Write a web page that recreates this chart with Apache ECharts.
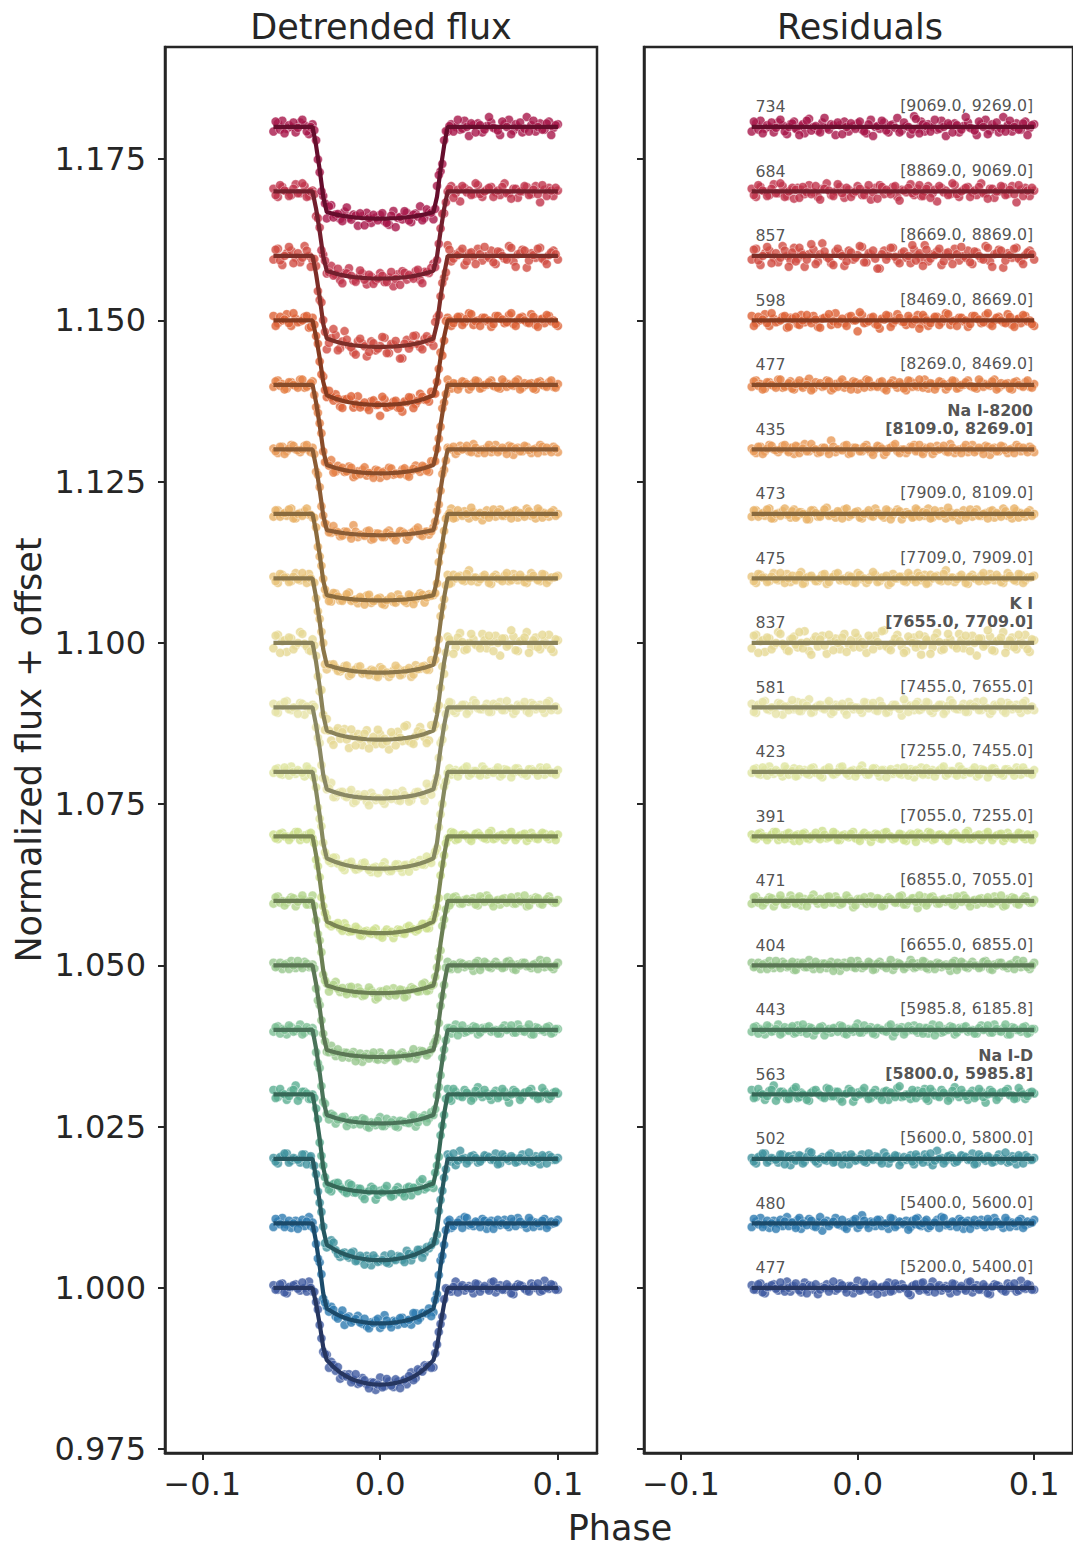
<!DOCTYPE html>
<html>
<head>
<meta charset="utf-8">
<script src="https://cdn.jsdelivr.net/npm/echarts@6/dist/echarts.min.js"></script>
<style>
    html, body { margin: 0; padding: 0; background: #fff; }
    #chart { width: 1073px; height: 1550px; }
</style>
</head>
<body>
<div id="chart"></div>
<script>

// phases of the exposures, first set
const phasesA = [
    -0.060, -0.0575, -0.055, -0.0525, -0.050, -0.0475, -0.045, -0.0425, -0.040, -0.038,
    -0.036, -0.034, -0.032, -0.030,
    -0.0275, -0.025, -0.0225, -0.020, -0.0175, -0.015, -0.0125, -0.010, -0.0075, -0.005, -0.0025, 0,
    0.0025, 0.005, 0.0075, 0.010, 0.0125, 0.015, 0.0175, 0.020, 0.0225, 0.025, 0.0275,
    0.030, 0.032, 0.034, 0.036, 0.038,
    0.040, 0.0425, 0.045, 0.0475, 0.050, 0.0525, 0.055, 0.0575, 0.060, 0.0625, 0.065, 0.0675,
    0.070, 0.0725, 0.075, 0.0775, 0.080, 0.0825, 0.085, 0.0875, 0.090, 0.0925, 0.095, 0.0975, 0.100
];
// second set of exposures, in between the first
const phasesB = [
    -0.05875, -0.05625, -0.05375, -0.05125, -0.04875, -0.04625, -0.04375, -0.04125, -0.039,
    -0.037, -0.035, -0.033, -0.031, -0.02875,
    -0.02625, -0.02375, -0.02125, -0.01875, -0.01625, -0.01375, -0.01125, -0.00875, -0.00625, -0.00375, -0.00125,
    0.00125, 0.00375, 0.00625, 0.00875, 0.01125, 0.01375, 0.01625, 0.01875, 0.02125, 0.02375, 0.02625,
    0.02875, 0.031, 0.033, 0.035, 0.037, 0.039,
    0.04125, 0.04375, 0.04625, 0.04875, 0.05125, 0.05375, 0.05625, 0.05875, 0.06125, 0.06375, 0.06625, 0.06875,
    0.07125, 0.07375, 0.07625, 0.07875, 0.08125, 0.08375, 0.08625, 0.08875, 0.09125, 0.09375, 0.09625, 0.09875
];

// transit model shape:
// fraction of the contact depth reached (ingress / egress)
const ingressA = [
    0, 0, 0, 0, 0, 0, 0, 0, 0, 0,
    0.22, 0.5, 0.82, 1,
    1, 1, 1, 1, 1, 1, 1, 1, 1, 1, 1, 1,
    1, 1, 1, 1, 1, 1, 1, 1, 1, 1, 1,
    1, 0.82, 0.5, 0.22, 0,
    0, 0, 0, 0, 0, 0, 0, 0, 0, 0, 0, 0,
    0, 0, 0, 0, 0, 0, 0, 0, 0, 0, 0, 0, 0
];
const ingressB = [
    0, 0, 0, 0, 0, 0, 0, 0, 0,
    0.08, 0.36, 0.66, 0.93, 1,
    1, 1, 1, 1, 1, 1, 1, 1, 1, 1, 1,
    1, 1, 1, 1, 1, 1, 1, 1, 1, 1, 1,
    1, 0.93, 0.66, 0.36, 0.08, 0,
    0, 0, 0, 0, 0, 0, 0, 0, 0, 0, 0, 0,
    0, 0, 0, 0, 0, 0, 0, 0, 0, 0, 0, 0
];
// limb darkening curvature of the bottom (fraction of centre - contact depth)
const bottomA = [
    0, 0, 0, 0, 0, 0, 0, 0, 0, 0,
    0, 0, 0, 0,
    0.18, 0.36, 0.50, 0.62, 0.72, 0.80, 0.86, 0.91, 0.95, 0.98, 0.995, 1,
    0.995, 0.98, 0.95, 0.91, 0.86, 0.80, 0.72, 0.62, 0.50, 0.36, 0.18,
    0, 0, 0, 0, 0,
    0, 0, 0, 0, 0, 0, 0, 0, 0, 0, 0, 0,
    0, 0, 0, 0, 0, 0, 0, 0, 0, 0, 0, 0, 0
];
const bottomB = [
    0, 0, 0, 0, 0, 0, 0, 0, 0,
    0, 0, 0, 0, 0.09,
    0.27, 0.43, 0.56, 0.67, 0.76, 0.83, 0.885, 0.93, 0.965, 0.988, 0.998,
    0.998, 0.988, 0.965, 0.93, 0.885, 0.83, 0.76, 0.67, 0.56, 0.43, 0.27,
    0.09, 0, 0, 0, 0, 0,
    0, 0, 0, 0, 0, 0, 0, 0, 0, 0, 0, 0,
    0, 0, 0, 0, 0, 0, 0, 0, 0, 0, 0, 0
];

// wavelength bins, bottom (blue) to top (red)
const offsets = [1.00, 1.01, 1.02, 1.03, 1.04, 1.05, 1.06, 1.07, 1.08, 1.09,
                 1.10, 1.11, 1.12, 1.13, 1.14, 1.15, 1.16, 1.17, 1.18];
const centerDepth = [0.0150, 0.0155, 0.0157, 0.0152, 0.0145, 0.0142, 0.0143, 0.0150, 0.0150, 0.0141,
                     0.0150, 0.0146, 0.0134, 0.0133, 0.0137, 0.0131, 0.0141, 0.0135, 0.0142];
const edgeDepth = [0.0112, 0.0132, 0.0133, 0.0138, 0.0132, 0.0131, 0.0131, 0.0132, 0.0134, 0.0127,
                   0.0136, 0.0134, 0.0126, 0.0125, 0.0124, 0.0116, 0.0128, 0.0123, 0.0132];
const rmsLabels = ['477', '480', '502', '563', '443', '404', '471', '391', '423', '581',
                   '837', '475', '473', '435', '477', '598', '857', '684', '734'];
const binLabels = ['[5200.0, 5400.0]', '[5400.0, 5600.0]', '[5600.0, 5800.0]', '[5800.0, 5985.8]',
                   '[5985.8, 6185.8]', '[6655.0, 6855.0]', '[6855.0, 7055.0]', '[7055.0, 7255.0]',
                   '[7255.0, 7455.0]', '[7455.0, 7655.0]', '[7655.0, 7709.0]', '[7709.0, 7909.0]',
                   '[7909.0, 8109.0]', '[8109.0, 8269.0]', '[8269.0, 8469.0]', '[8469.0, 8669.0]',
                   '[8669.0, 8869.0]', '[8869.0, 9069.0]', '[9069.0, 9269.0]'];
const featureNames = ['', '', '', 'Na I-D', '', '', '', '', '', '', 'K I', '', '', 'Na I-8200', '', '', '', '', ''];
const colors = ['#3f5aa0', '#2d7bb0', '#41939f', '#5aae91', '#7cbf94', '#97c78d', '#b3d48c', '#cde08c',
                '#dfe5a0', '#e6e2a6', '#e6d894', '#e8c47c', '#e8b266', '#e89a58', '#e57f45', '#dd6236',
                '#d14c42', '#c0334b', '#a8164a'];

// residuals per bin, in units of 1.4e-4 (same order as phasesA / phasesB)
const RESID_UNIT = 1.4e-4;
const residualsA = [
    [3,-2,5,-6,1,4,-3,0,7,-4, 2,-1,-5,6,3,-2,-7,1,4,0, -3,5,-1,2,-6,8,-2,3,-4,1, 0,-5,6,-3,2,4,-1,-8,3,0, 5,-2,-4,7,1,-3,2,-6,4,0, -1,6,-5,3,-2,1,-7,4,2,-3, 5,0,-4,8,-1,3,-2],
    [-4,2,6,-1,-5,3,0,-3,7,1, -2,4,-6,2,5,-3,1,-8,3,0, 6,-2,-4,1,3,-5,9,-1,2,-3, 4,0,-6,5,-2,1,3,-4,-1,6, -3,2,-5,0,4,7,-2,-3,1,5, -6,3,0,-2,4,-4,2,6,-1,-5, 3,1,-3,5,-2,0,4],
    [1,-5,3,6,-2,0,-4,5,2,-7, 4,-1,3,-3,8,0,-5,2,-2,6, -3,1,4,-6,2,-1,5,-4,0,3, -2,7,-5,1,3,-3,-1,4,-6,2, 0,5,-3,-7,9,1,-2,4,-4,0, 3,-1,6,-5,2,-2,1,-3,5,0, -4,3,-6,2,4,-1,1],
    [5,-3,1,-6,4,10,-2,3,-5,0, 6,-4,2,-1,-7,4,1,-3,7,-2, 3,-5,0,6,-8,2,4,-1,-4,5, -2,3,-6,1,7,-3,0,-5,2,4, -1,6,-7,3,-2,5,0,-4,8,-3, 1,-6,4,-2,3,-9,5,0,-3,2, 6,-1,-4,3,-5,2,1],
    [-2,4,1,-5,3,-1,6,-3,0,2, -4,5,-2,1,3,-6,0,4,-1,-3, 2,5,-4,1,-2,7,-3,0,3,-5, 1,-1,4,-7,2,3,-2,0,5,-3, -1,2,-4,6,0,-3,1,4,-5,2, 3,-2,0,-4,5,1,-3,6,-1,2, -5,3,0,-2,4,-3,1],
    [3,-1,-4,2,5,-3,0,4,-2,1, -5,3,1,-2,6,-4,0,2,-3,4, -1,-6,3,1,-2,5,-3,0,2,-4, 4,-1,1,-5,3,0,-2,6,-3,2, -1,4,-4,0,3,-2,1,-6,5,-1, 2,-3,4,0,-2,5,-4,1,3,-1, -3,2,6,-2,0,-4,3],
    [-3,5,0,-2,4,-6,2,1,-4,6, -1,3,-5,2,0,7,-3,-1,4,-2, 5,-4,1,3,-7,2,0,-3,5,-1, 2,-5,4,0,-2,6,-4,1,3,-8, 0,4,-2,5,-3,1,-1,3,-5,2, 6,-2,0,-4,3,1,-3,5,-1,-6, 2,4,-3,0,5,-2,1],
    [2,-3,4,0,-1,5,-4,1,3,-2, -5,2,0,4,-3,1,-1,6,-2,0, 3,-4,2,-1,5,-3,1,0,-6,3, -2,4,1,-3,0,2,-5,3,-1,4, 0,-2,5,-4,1,2,-3,0,4,-1, -3,6,-2,1,-4,3,0,-1,2,-5, 4,-2,1,3,-3,0,2],
    [-1,4,-3,2,6,-2,0,-5,3,1, 4,-4,0,2,-3,5,-1,-6,3,0, -2,5,1,-4,2,-1,7,-3,0,4, -5,2,1,-2,4,-3,0,3,-6,1, 5,-1,-3,2,0,4,-4,1,-2,6, -3,0,2,-5,3,1,-1,4,-2,-4, 3,0,5,-3,1,-1,2],
    [4,-6,2,7,-3,0,5,-8,1,3, -2,6,-4,0,9,-5,2,-1,4,-7, 3,1,-4,6,-2,0,-6,5,2,-3, 7,-1,-5,3,0,-9,4,2,-3,6, -2,1,5,-6,0,3,-4,8,-1,-2, 4,-5,2,6,-3,0,-7,3,1,-4, 5,-2,3,-6,7,0,-3],
    [-6,9,2,-10,5,-3,12,-1,-8,4, 7,-5,0,13,-9,3,-4,8,-12,2, 5,-7,10,-2,-5,6,1,-11,4,8, -3,14,-6,0,9,-4,-9,3,6,-1, -13,7,2,-5,11,-8,0,4,-3,10, -6,1,8,-14,5,-2,7,-9,3,12, -4,6,-7,2,9,-10,3],
    [2,-5,4,1,-3,6,-2,0,5,-4, -1,3,7,-5,2,0,-3,4,-6,1, 5,-2,0,3,-4,6,-1,-5,2,4, -3,1,-7,5,0,2,-4,3,-1,6, -2,4,-5,0,3,-3,9,1,-4,2, 0,-6,4,-1,3,-3,5,-2,1,-5, 6,0,-3,4,-2,1,3],
    [-3,4,0,-2,6,-5,1,3,-1,-4, 5,-2,2,0,-6,4,-3,1,7,-1, -4,2,5,-3,0,3,-5,1,-2,6, 0,-4,3,-1,5,-6,2,0,-3,4, 1,-2,6,-4,0,3,-5,2,-1,-7, 4,0,-3,5,-2,1,3,-4,0,6, -2,-5,3,1,-3,4,0],
    [1,-4,3,-2,5,0,-3,4,-1,2, -5,3,0,6,-2,1,-4,2,-1,10, -3,0,4,-5,2,1,-2,5,-3,0, 3,-6,1,4,-2,0,-4,3,5,-1, -3,2,0,-5,4,1,-2,6,-4,0, 2,-3,5,-1,0,4,-6,2,-2,3, -4,1,5,-2,0,3,-3],
    [-2,5,1,-4,3,-1,6,-3,0,4, -5,2,-1,3,7,-4,0,-2,5,-6, 1,3,-3,0,4,-5,2,6,-2,-1, 3,-4,0,5,-3,1,-6,4,2,-2, 0,6,-4,1,-1,3,-5,2,4,-3, 0,5,-2,-4,3,1,-1,6,-3,0, 2,-5,4,-1,3,-2,1],
    [5,-3,0,7,-6,2,-1,4,-8,3, 1,-4,6,-2,0,5,-7,2,3,-5, 8,-1,-3,4,0,-12,6,-2,3,-4, -9,1,5,-3,7,-1,-5,2,0,6, -4,3,-6,1,4,-2,8,-5,0,3, -1,-7,5,2,-3,6,-4,0,4,-2, 7,-5,1,-3,5,0,-6],
    [-4,8,-10,3,6,-2,-7,11,0,-5, 9,-3,4,-12,2,7,-6,14,-1,-8, 5,3,-11,6,-4,1,10,-7,2,-3, -14,6,0,9,-5,3,-2,-8,7,1, -4,12,-6,2,5,-10,3,-1,8,-5, 0,6,-9,4,-3,11,-6,2,7,-13, 3,-2,9,-5,1,6,-4],
    [3,-6,5,0,-4,8,-2,6,-5,1, -8,4,2,-3,7,-1,-6,3,9,-4, 0,5,-7,2,-2,6,-4,1,-9,4, 7,-3,0,5,-6,2,-1,8,-4,3, -5,0,6,-2,-11,4,1,-3,7,-6, 2,5,-1,-4,9,-2,3,-7,0,5, -3,6,-12,2,4,-5,1],
    [-5,4,7,-2,0,-6,5,2,-8,3, 6,-3,1,-7,9,0,-4,5,-1,3, -9,2,6,-5,1,4,-3,-7,8,0, -2,5,-6,3,10,-4,1,-8,12,-2, 6,-5,3,0,-3,7,-10,2,4,-6, 1,5,-2,-9,3,8,-4,0,-6,11, 2,-5,4,-3,6,-1,3]
];
const residualsB = [
    [-2,4,-5,1,3,-1,6,-4,0,2, 5,-3,1,-6,2,4,-2,0,-4,7, -1,3,-5,2,0,-3,6,-2,4,-7, 1,3,-4,5,-1,0,-6,2,4,-3, 6,-2,1,-5,3,0,-1,5,-4,2, -3,7,0,-2,4,-6,1,3,-1,-4, 2,5,-3,0,4,-2],
    [5,-1,-4,3,0,-6,4,2,-3,1, -5,6,0,-2,3,-4,7,1,-3,2, -1,4,-6,0,5,-2,3,-5,1,4, -3,0,6,-4,2,-1,-7,3,5,-2, 0,4,-3,1,-5,6,-1,2,-4,3, 1,-6,4,0,-2,5,-3,2,-1,6, -4,0,3,-5,2,1],
    [-3,2,6,-4,1,-1,5,-6,3,0, -2,4,-5,2,7,-3,0,-1,4,-4, 3,-6,1,5,-2,0,-3,6,-1,2, -5,3,0,4,-7,2,1,-3,5,-1, -4,2,6,-2,0,-5,3,1,-3,4, 2,-1,-6,5,0,3,-4,1,-2,7, -3,0,4,-5,2,-1],
    [-4,6,0,-2,5,-7,3,1,-5,4, 8,-3,0,-6,2,5,-1,-4,6,-2, 3,-8,1,4,-3,0,7,-5,2,-1, -6,4,2,-3,9,-2,0,5,-4,1, 3,-5,6,-1,-3,2,-7,4,0,5, -2,1,-4,6,-3,0,3,-6,2,4, -1,-5,7,0,-2,3],
    [3,-4,0,5,-2,1,-5,3,-1,4, -3,0,6,-4,2,-1,3,-6,1,2, -2,4,-5,0,3,-3,5,1,-4,2, 0,-2,6,-3,1,-5,4,0,-1,3, -4,2,1,-6,5,-2,0,3,-3,1, 4,-1,-4,2,0,5,-3,1,-2,6, -5,2,0,3,-4,1],
    [-2,3,1,-4,0,5,-3,2,-1,4, -5,1,3,-2,0,4,-4,2,1,-6, 3,0,-2,5,-3,1,-1,4,-5,2, 0,-3,6,-1,2,-4,1,3,-2,0, 5,-3,1,-4,2,0,-1,3,-5,4, -2,1,0,-3,4,2,-5,0,3,-1, 1,-4,2,5,-2,0],
    [4,-2,-5,1,3,-1,6,-4,0,2, -3,5,-1,-6,3,0,2,-4,5,-2, 1,-3,6,0,-5,2,4,-1,-3,3, -6,1,2,-2,5,-4,0,3,-1,6, -2,-5,4,1,-3,2,0,-4,5,-1, 3,-6,1,2,-2,4,-3,0,6,-5, 1,3,-4,2,0,-2],
    [-2,3,0,-4,2,5,-1,-3,4,0, 1,-5,3,-2,0,4,-3,2,-1,5, -4,1,0,3,-2,-5,4,1,-1,2, -3,5,0,-2,3,-4,1,2,-6,3, 0,-1,4,-3,2,0,-5,3,1,-2, 4,-3,0,2,-1,5,-4,1,3,-2, 0,-3,4,-1,2,-4],
    [3,-2,5,-4,0,2,-1,6,-3,1, -5,3,0,-2,4,-1,-4,2,5,-3, 0,6,-2,1,-5,3,0,-3,4,-1, 2,-6,3,0,-2,5,-4,1,2,-1, -3,4,0,-5,2,6,-2,1,-4,3, 0,-1,5,-3,2,-6,4,0,-2,3, 1,-4,2,5,-1,-3],
    [-5,3,6,-2,0,-7,4,1,-3,8, -1,-4,5,2,-6,0,3,-2,7,-5, 1,4,-8,2,0,-3,6,-1,5,-4, 2,-6,0,3,-2,9,-5,1,4,-3, 0,6,-4,-1,3,-7,2,5,-2,0, -5,4,1,-3,7,-1,-4,2,6,-6, 3,0,-2,5,-3,1],
    [8,-11,3,6,-7,0,10,-4,-9,5, -2,12,-6,1,-13,7,4,-3,9,-8, 0,6,-10,3,11,-5,-2,8,-7,1, 13,-4,-8,5,2,-11,7,0,-5,9, -3,4,-12,6,1,-7,10,-2,-6,3, 8,-9,0,5,-4,14,-8,2,6,-11, 3,-5,9,-2,-7,4],
    [-3,5,1,-4,2,-1,6,-5,0,3, -2,4,-6,1,3,-3,0,5,-4,2, 6,-1,-3,2,-5,4,0,-2,7,-4, 1,3,-5,0,2,-3,6,-1,-4,3, 0,-6,4,2,-2,5,-3,1,-1,4, -5,2,0,-3,6,-2,1,4,-4,0, 3,-2,5,-5,1,2],
    [4,-3,1,5,-5,0,-2,6,-1,3, -4,2,0,-6,4,1,-3,5,-2,0, 3,-5,6,-1,2,-4,0,4,-3,1, -2,5,-6,2,3,-1,0,-4,6,-3, 2,1,-5,4,-2,0,7,-3,1,-1, -4,5,2,-2,0,-5,4,1,-3,3, -1,6,-4,0,2,-2],
    [-2,3,-5,1,4,-1,0,5,-3,2, 4,-4,1,-2,6,0,-3,2,-5,3, 0,-1,5,-4,2,-2,3,0,-6,4, 1,-3,2,6,-4,0,-1,3,-2,5, -5,1,3,-2,0,4,-3,2,-1,-4, 5,0,-3,2,-5,3,1,-2,4,-1, 0,-4,3,2,-3,1],
    [4,-1,-5,3,0,-3,6,-2,2,-4, 1,5,-3,0,-6,3,2,-1,4,-4, -2,6,0,-5,3,1,-3,5,-1,-2, 4,-6,2,0,3,-4,5,-2,-1,6, -3,0,2,-5,4,1,-2,5,-4,0, 3,-1,-3,6,-2,0,4,-5,2,1, -4,3,0,-2,5,-3],
    [-6,4,1,-3,8,-2,0,5,-7,2, 4,-5,0,6,-3,1,-8,3,7,-1, -4,2,-6,5,0,9,-3,-1,4,-5, 2,6,-7,0,3,-2,5,-4,1,-9, 6,0,-3,4,-5,2,7,-1,-6,3, 0,-4,5,1,-2,8,-6,3,0,-3, 4,-7,2,6,-1,-4],
    [7,-5,0,10,-8,3,-2,6,-12,4, -6,9,1,-4,13,-9,2,5,-3,-10, 8,0,-6,4,-2,11,-7,3,6,-14, 2,-4,9,-1,-8,5,0,12,-5,3, -11,7,-3,1,8,-6,4,-9,2,10, -2,-7,5,0,-4,9,-12,3,6,-5, 1,8,-3,-9,4,2],
    [-4,7,1,-5,3,-2,9,-6,0,4, 2,-7,5,-1,-3,6,-9,3,1,-5, 8,-2,4,-6,0,3,-4,7,-1,-8, 5,2,-3,6,-10,1,4,-2,0,7, -5,3,-7,2,6,-1,-4,9,-3,0, 4,-6,1,5,-2,-8,3,0,6,-4, 2,-3,7,-5,1,4],
    [6,-3,-7,2,5,-1,8,-5,0,4, -2,-9,3,7,-4,1,-6,10,-3,2, 5,-8,0,4,-2,6,-5,3,-10,1, 7,-4,2,-1,-6,5,0,-3,9,-7, 3,1,-5,8,-2,0,4,-6,2,-3, 11,-1,-4,6,0,-8,3,5,-2,-5, 7,0,-3,4,-9,2]
];

const xTicks = [-0.1, 0, 0.1];
const yTicks = [0.975, 1.000, 1.025, 1.050, 1.075, 1.100, 1.125, 1.150, 1.175];

const INK = '#262626';
const FONT = 'DejaVu Sans';

function darker(hex, f) {
    let n = parseInt(hex.slice(1), 16);
    let r = Math.round(((n >> 16) & 255) * f);
    let g = Math.round(((n >> 8) & 255) * f);
    let b = Math.round((n & 255) * f);
    return 'rgb(' + r + ',' + g + ',' + b + ')';
}

function depthOf(i, ingW, botW) {
    return edgeDepth[i] * ingW + (centerDepth[i] - edgeDepth[i]) * botW;
}

function fmtX(v) {
    return (v < 0 ? '\u2212' : '') + Math.abs(v).toFixed(1);
}

// fill flux / residual point lists for one exposure set
function addPoints(i, ph, ingW, botW, res, flux, resid) {
    let n = Math.min(res.length, ph.length);
    for (let k = 0; k < n; k++) {
        let m = offsets[i] - depthOf(i, ingW[k], botW[k]);
        flux.push([ph[k], m + res[k] * RESID_UNIT]);
        resid.push([ph[k], offsets[i] + res[k] * RESID_UNIT]);
    }
}

let series = [];
offsets.forEach(function(off, i) {
    let flux = [], resid = [], model = [];
    addPoints(i, phasesA, ingressA, bottomA, residualsA[i], flux, resid);
    addPoints(i, phasesB, ingressB, bottomB, residualsB[i], flux, resid);
    phasesA.forEach(function(p, k) {
        model.push([p, off - depthOf(i, ingressA[k], bottomA[k])]);
    });

    let dotStyle = { color: colors[i], borderColor: '#fff', borderWidth: 0.5 };
    let lineStyle = { color: darker(colors[i], 0.6), width: 4.2 };

    series.push({
        type: 'scatter', xAxisIndex: 0, yAxisIndex: 0, data: flux,
        symbolSize: 9, itemStyle: dotStyle, z: 2, silent: true
    });
    series.push({
        type: 'line', xAxisIndex: 0, yAxisIndex: 0, data: model,
        showSymbol: false, lineStyle: lineStyle, z: 3, silent: true
    });
    series.push({
        type: 'scatter', xAxisIndex: 1, yAxisIndex: 1, data: resid,
        symbolSize: 9, itemStyle: dotStyle, z: 2, silent: true
    });
    series.push({
        type: 'line', xAxisIndex: 1, yAxisIndex: 1,
        data: [[phasesA[0], off], [phasesA[phasesA.length - 1], off]],
        showSymbol: false, lineStyle: lineStyle, z: 3, silent: true
    });
});

// text labels in the residual panel
series.push({
    type: 'scatter', xAxisIndex: 1, yAxisIndex: 1, z: 5, silent: true,
    symbolSize: 1, itemStyle: { color: 'transparent' },
    data: offsets.map(function(off) { return [-0.0579, off]; }),
    label: {
        show: true, position: 'inside', align: 'left', verticalAlign: 'bottom', offset: [0, -12],
        fontFamily: FONT, fontSize: 15.8, color: INK,
        formatter: function(p) { return rmsLabels[p.dataIndex]; }
    }
});
series.push({
    type: 'scatter', xAxisIndex: 1, yAxisIndex: 1, z: 5, silent: true,
    symbolSize: 1, itemStyle: { color: 'transparent' },
    data: offsets.map(function(off, i) {
        return {
            value: [0.0994, off],
            label: {
                fontWeight: featureNames[i] ? 'bold' : 'normal',
                formatter: featureNames[i] ? featureNames[i] + '\n' + binLabels[i] : binLabels[i]
            }
        };
    }),
    label: {
        show: true, position: 'inside', align: 'right', verticalAlign: 'bottom', offset: [0, -12],
        fontFamily: FONT, fontSize: 15.8, lineHeight: 18, color: INK
    }
});

function xAxisFor(k) {
    return {
        type: 'value', gridIndex: k, min: -0.121, max: 0.122,
        axisLine: { show: true, onZero: false, lineStyle: { color: INK, width: 2.5 } },
        axisTick: { show: true, length: 7, customValues: xTicks, lineStyle: { color: INK, width: 2 } },
        axisLabel: {
            show: true, customValues: xTicks, formatter: fmtX, margin: 15,
            fontFamily: FONT, fontSize: 32, color: INK
        },
        splitLine: { show: false }
    };
}

function yAxisFor(k) {
    return {
        type: 'value', gridIndex: k, min: 0.9744, max: 1.1924,
        axisLine: { show: true, onZero: false, lineStyle: { color: INK, width: 2.5 } },
        axisTick: { show: true, length: 7, customValues: yTicks, lineStyle: { color: INK, width: 2 } },
        axisLabel: {
            show: k === 0, customValues: yTicks, margin: 19,
            formatter: function(v) { return v.toFixed(3); },
            fontFamily: FONT, fontSize: 32, color: INK
        },
        splitLine: { show: false }
    };
}

let option = {
    animation: false,
    backgroundColor: '#fff',
    textStyle: { fontFamily: FONT },
    grid: [
        { left: 165, top: 47, width: 432, height: 1406, show: true, borderColor: INK, borderWidth: 2.5, backgroundColor: 'transparent' },
        { left: 644, top: 47, width: 433, height: 1406, show: true, borderColor: INK, borderWidth: 2.5, backgroundColor: 'transparent' }
    ],
    xAxis: [xAxisFor(0), xAxisFor(1)],
    yAxis: [yAxisFor(0), yAxisFor(1)],
    graphic: [
        { type: 'text', x: 381, y: 27, style: { text: 'Detrended flux', font: '35px "DejaVu Sans"', fill: INK, textAlign: 'center', textVerticalAlign: 'middle' } },
        { type: 'text', x: 860, y: 27, style: { text: 'Residuals', font: '35px "DejaVu Sans"', fill: INK, textAlign: 'center', textVerticalAlign: 'middle' } },
        { type: 'text', x: 620, y: 1528, style: { text: 'Phase', font: '35px "DejaVu Sans"', fill: INK, textAlign: 'center', textVerticalAlign: 'middle' } },
        { type: 'text', x: 29, y: 750, rotation: Math.PI / 2, style: { text: 'Normalized flux + offset', font: '35px "DejaVu Sans"', fill: INK, textAlign: 'center', textVerticalAlign: 'middle' } }
    ],
    series: series
};

let chart = echarts.init(document.getElementById('chart'), null, { renderer: 'svg' });
chart.setOption(option);

</script>
</body>
</html>
